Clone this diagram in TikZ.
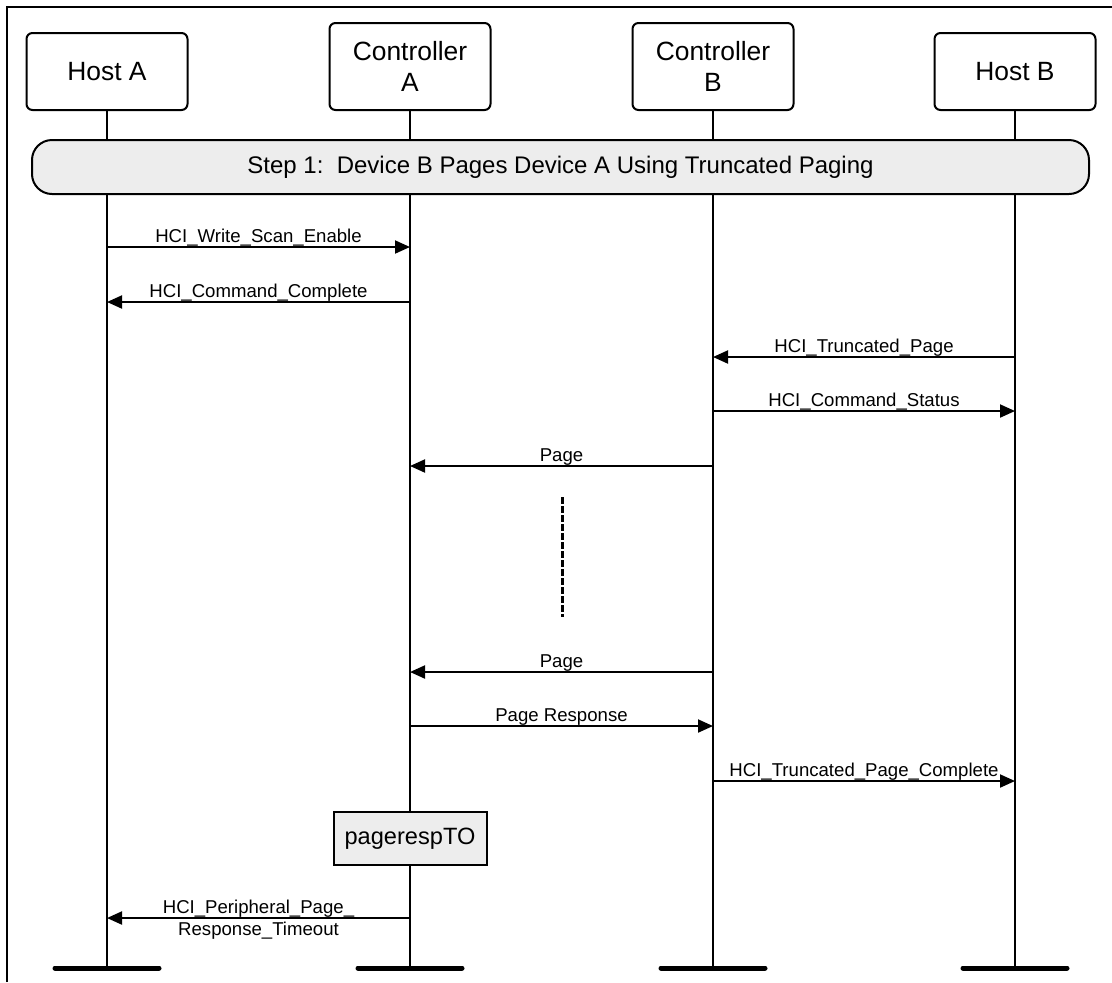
\documentclass[tikz,border=0pt]{standalone}
\usepackage{fontspec}
\setmainfont{Liberation Sans}
\usetikzlibrary{arrows.meta,positioning}
\definecolor{boxgray}{HTML}{EDEDED}

\begin{document}
\begin{tikzpicture}[
    x=0.5pt, y=-0.5pt,
    hostbox/.style={draw, line width=1pt, rounded corners=3pt, minimum width=80.5pt, minimum height=38.5pt, inner sep=0pt, align=center, font=\fontsize{13.2}{15.5}\selectfont},
    ctrlbox/.style={hostbox, minimum height=43.5pt},
    stepbox/.style={draw, line width=1pt, fill=boxgray, rounded corners=10pt, minimum width=528.5pt, minimum height=27pt, inner sep=0pt, font=\fontsize{12}{14}\selectfont},
    timerbox/.style={draw, line width=1pt, fill=boxgray, minimum width=76.5pt, minimum height=26.5pt, inner sep=0pt, font=\fontsize{11.8}{14}\selectfont},
    life/.style={line width=1.15pt},
    bar/.style={line width=2.5pt, line cap=round},
    arrow/.style={-{Triangle[length=7.5pt, width=6.5pt]}, line width=1pt},
    msgfont/.style={inner sep=0pt, font=\fontsize{9.3}{11}\selectfont},
    msg/.style={msgfont, midway, anchor=base, yshift=2.5pt},
    msgbelow/.style={msgfont, midway, anchor=base, yshift=-8.5pt}
  ]
    \useasboundingbox (0,0) rectangle (1112,982);
    \draw[line width=1.25pt] (7,982) -- (7,7) -- (1112,7);

    \node[hostbox, anchor=south] (hostA) at (107,111) {Host A};
    \node[ctrlbox, anchor=south] (ctrlA) at (410,111) {Controller\\A};
    \node[ctrlbox, anchor=south] (ctrlB) at (713,111) {Controller\\B};
    \node[hostbox, anchor=south] (hostB) at (1015,111) {Host B};

    \coordinate (ends) at (0,968);
    \foreach \n in {hostA, ctrlA, ctrlB, hostB} {
      \draw[life] (\n) -- (\n |- ends);
      \draw[bar] (\n |- ends) ++(-52,0) -- ++(104,0);
    }

    \node[stepbox] (step) at (560.5,167) {Step 1:~~Device B Pages Device A Using Truncated Paging};
    \node[timerbox] (timer) at (410,838.5) {pagerespTO};

    \foreach \i/\y in {1/247, 2/302, 3/357, 4/411, 5/466, 6/672, 7/726, 8/781, 9/918}
      \coordinate (m\i) at (0,\y);

    \draw[arrow] (hostA |- m1) -- (ctrlA |- m1) node[msg] {HCI\_Write\_Scan\_Enable};
    \draw[arrow] (ctrlA |- m2) -- (hostA |- m2) node[msg] {HCI\_Command\_Complete};
    \draw[arrow] (hostB |- m3) -- (ctrlB |- m3) node[msg] {HCI\_Truncated\_Page};
    \draw[arrow] (ctrlB |- m4) -- (hostB |- m4) node[msg] {HCI\_Command\_Status};
    \draw[arrow] (ctrlB |- m5) -- (ctrlA |- m5) node[msg] {Page};
    \draw[arrow] (ctrlB |- m6) -- (ctrlA |- m6) node[msg] {Page};
    \draw[arrow] (ctrlA |- m7) -- (ctrlB |- m7) node[msg] {Page Response};
    \draw[arrow] (ctrlB |- m8) -- (hostB |- m8) node[msg] {HCI\_Truncated\_Page\_Complete};
    \draw[arrow] (timer |- m9) -- (hostA |- m9) node[msg] {HCI\_Peripheral\_Page\_}
      node[msgbelow] {Response\_Timeout};

    \coordinate (gapTop) at (562,497);
    \coordinate (gapBot) at (562,617);
    \draw[line width=1.5pt, dash pattern=on 3.5pt off 1pt] (gapTop) -- (gapBot);
  \end{tikzpicture}
\end{document}
